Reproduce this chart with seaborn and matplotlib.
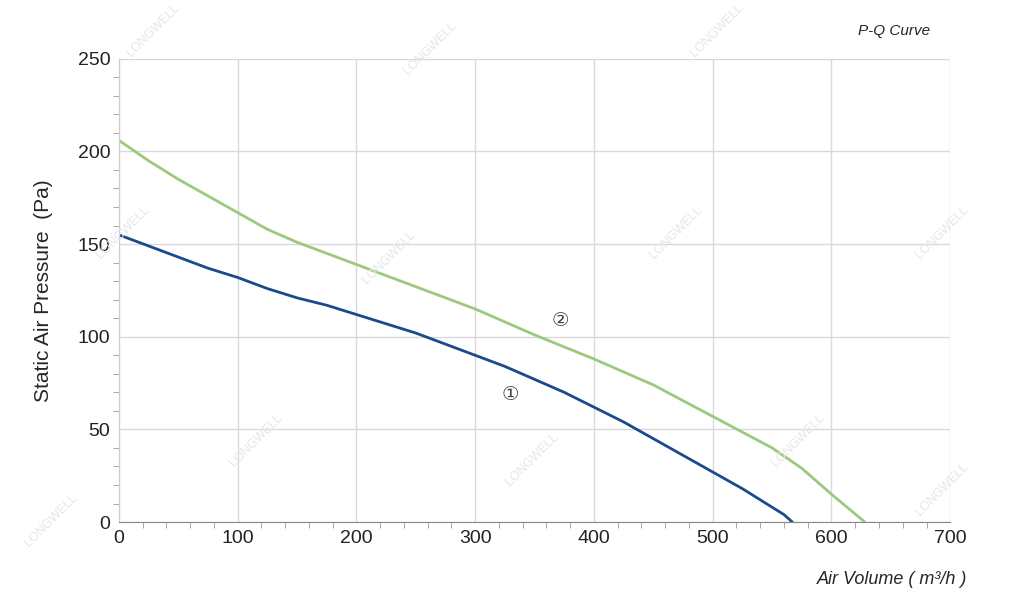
import matplotlib
matplotlib.use("Agg")
import matplotlib.pyplot as plt
import seaborn as sns
import pandas as pd
from matplotlib.ticker import MultipleLocator

q1 = [0, 25, 50, 75, 100, 125, 150, 175, 200, 225, 250, 275, 300, 325, 350, 375, 400, 425, 450, 475, 500, 525, 545, 560, 567]
p1 = [155, 149, 143, 137, 132, 126, 121, 117, 112, 107, 102, 96, 90, 84, 77, 70, 62, 54, 45, 36, 27, 18, 10, 4, 0]
q2 = [0, 25, 50, 75, 100, 125, 150, 175, 200, 250, 300, 350, 400, 450, 500, 550, 575, 600, 615, 628]
p2 = [206, 195, 185, 176, 167, 158, 151, 145, 139, 127, 115, 101, 88, 74, 57, 40, 29, 15, 7, 0]

sns.set_style("white")
plt.rcParams['font.family'] = ['Liberation Sans', 'DejaVu Sans']
fig = plt.figure(figsize=(10.24, 6.12), dpi=100)
ax = fig.add_axes([0.116, 0.147, 0.812, 0.757])

df1 = pd.DataFrame({"q": q1, "p": p1})
df2 = pd.DataFrame({"q": q2, "p": p2})
sns.lineplot(data=df2, x="q", y="p", ax=ax, color="#9dc97f", lw=2)
sns.lineplot(data=df1, x="q", y="p", ax=ax, color="#1a4a8c", lw=2)

ax.set_xlim(0, 700)
ax.set_ylim(0, 250)
ax.xaxis.set_major_locator(MultipleLocator(100))
ax.yaxis.set_major_locator(MultipleLocator(50))
ax.xaxis.set_minor_locator(MultipleLocator(20))
ax.yaxis.set_minor_locator(MultipleLocator(10))
ax.grid(True, which="major", color="#d9d9d9", lw=1)
ax.tick_params(which="both", direction="out", color="#999999", labelsize=14, labelcolor="#222222")
ax.tick_params(which="major", length=0, pad=6)
ax.tick_params(axis="x", which="minor", length=4, bottom=True)
ax.tick_params(axis="y", which="minor", length=4, left=True)
for s in ax.spines.values():
    s.set_visible(False)
ax.spines["bottom"].set_visible(True)
ax.spines["bottom"].set_color("#888888")
ax.spines["left"].set_visible(True)
ax.spines["left"].set_color("#cccccc")
ax.set_xlabel("")
ax.set_ylabel("Static Air Pressure  (Pa)", fontsize=15, labelpad=18)

ax.text(330, 69, "①", fontsize=14, ha="center", va="center", color="#444444", family=["DejaVu Sans"])
ax.text(372, 109, "②", fontsize=14, ha="center", va="center", color="#444444", family=["DejaVu Sans"])
fig.text(0.945, 0.045, "Air Volume ( m³/h )", fontsize=13, style="italic", ha="right")
fig.text(0.908, 0.943, "P-Q Curve", fontsize=11, style="italic", ha="right")

for (x, y) in [(0.15, 0.95), (0.42, 0.92), (0.70, 0.95), (0.12, 0.62), (0.38, 0.58), (0.66, 0.62),
               (0.92, 0.62), (0.25, 0.28), (0.52, 0.25), (0.78, 0.28), (0.05, 0.15), (0.92, 0.20)]:
    fig.text(x, y, "LONGWELL", fontsize=9, rotation=45, color="#e6e6e6", ha="center", va="center")

fig.savefig("out.png", dpi=100)
